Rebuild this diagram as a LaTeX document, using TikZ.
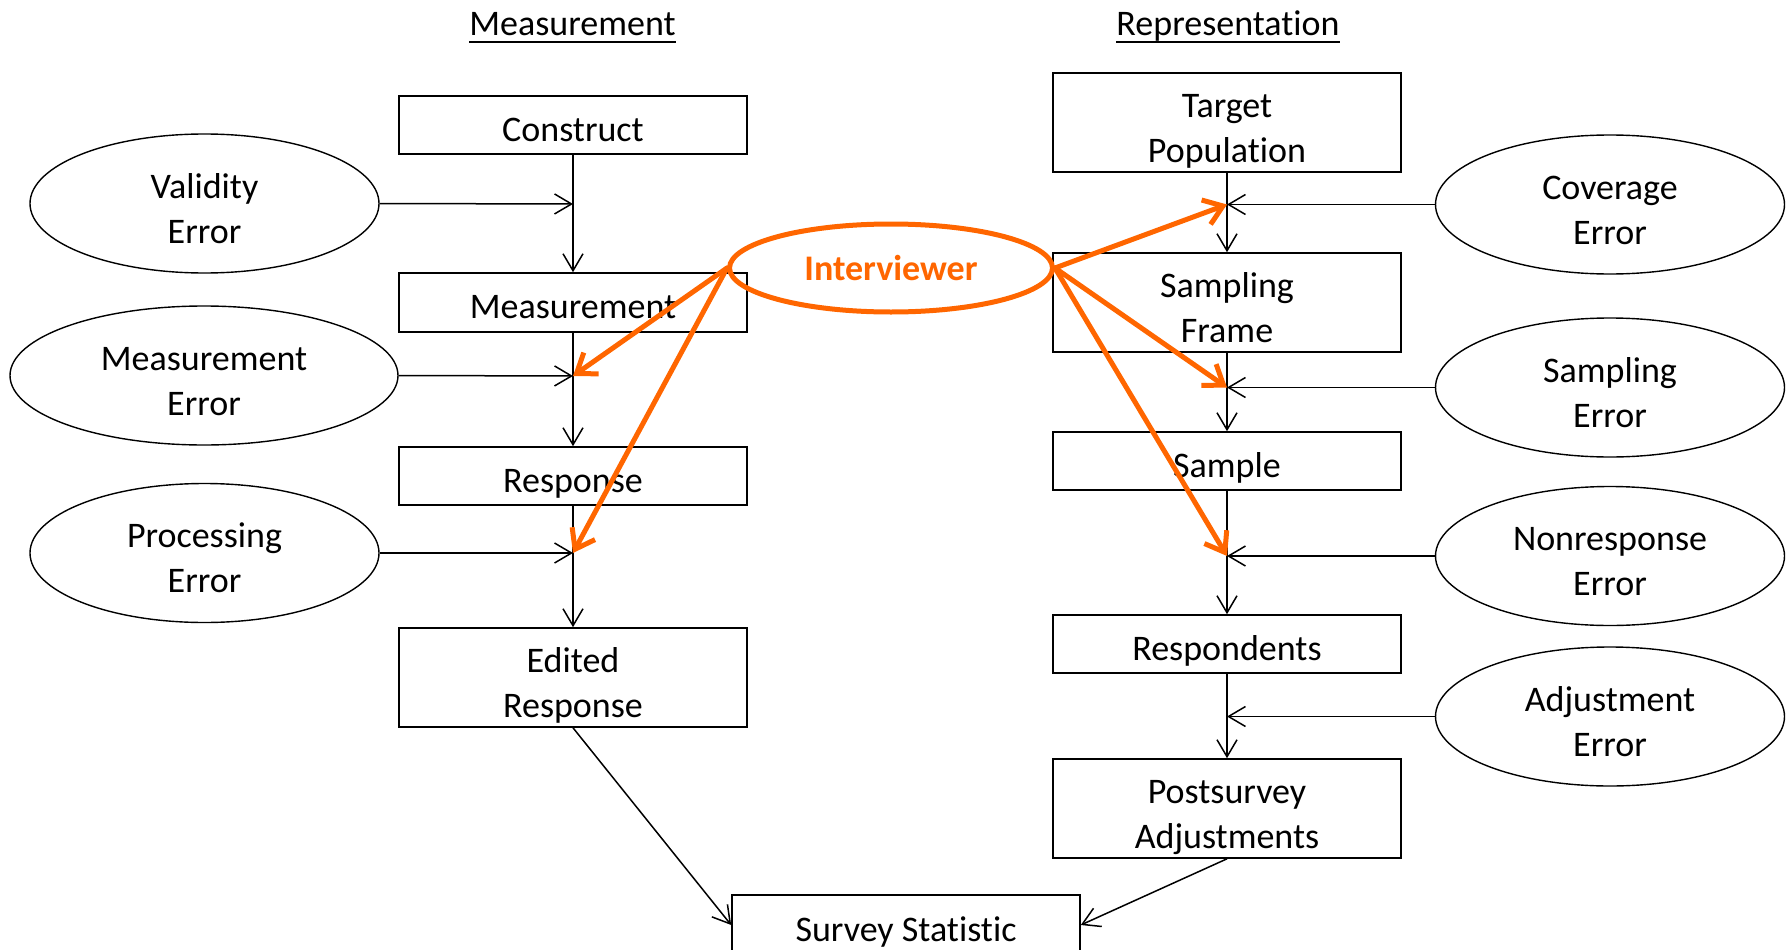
\documentclass[tikz,border=0pt]{standalone}
\usepackage{fontspec}
\setmainfont{Carlito}[RawFeature={-liga;-clig;-calt;-dlig}]
\usetikzlibrary{arrows.meta,shapes.geometric}
\definecolor{ivorange}{RGB}{255,102,0}
\newcommand\onel[1]{\raisebox{0pt}[32pt][0pt]{#1}}
\newcommand\twol[2]{\raisebox{0pt}[79pt][0pt]{\parbox[b]{240pt}{\centering #1\\#2}}}
\begin{document}
\begin{tikzpicture}[x=1pt,y=-1pt,
  txt/.style={font=\fontsize{36}{45}\selectfont},
  box/.style={txt, draw, line width=1.6pt, minimum width=348pt, inner sep=0pt},
  err/.style={txt, draw, ellipse, line width=1.4pt, inner sep=0pt, minimum width=349pt, minimum height=139pt},
  arr/.style={line width=1.5pt, -{Straight Barb[length=17pt,width=20pt]}},
  iarr/.style={ivorange, line width=5pt, line cap=round, -{Straight Barb[length=18pt,width=26pt]}},
  title/.style={txt, inner sep=0pt, anchor=base}]
\useasboundingbox (0,0) rectangle (1791,950);
\clip (0,0) rectangle (1791,950);

% titles
\node[title] (t1) at (572.5,36) {Measurement};
\node[title] (t2) at (1228,36) {Representation};
\draw[line width=1.8pt] ([yshift=-6pt]t1.base west) -- ([yshift=-6pt]t1.base east);
\draw[line width=1.8pt] ([yshift=-6pt]t2.base west) -- ([yshift=-6pt]t2.base east);

% measurement side
\node[box, minimum height=58pt] (construct) at (573,125) {\onel{Construct}};
\node[box, minimum height=59pt] (measure) at (573,302.5) {\onel{Measurement}};
\node[box, minimum height=58pt] (response) at (573,476) {\onel{Response}};
\node[box, minimum height=99pt] (edited) at (573,677.5) {\twol{Edited}{Response}};

% representation side
\node[box, minimum height=99pt] (target) at (1227,122.5) {\twol{Target}{Population}};
\node[box, minimum height=99pt] (frame) at (1227,302.5) {\twol{Sampling}{Frame}};
\node[box, minimum height=58pt] (sample) at (1227,461) {\onel{Sample}};
\node[box, minimum height=58pt] (resp) at (1227,644) {\onel{Respondents}};
\node[box, minimum height=99pt] (post) at (1227,808.5) {\twol{Postsurvey}{Adjustments}};

% survey statistic
\node[box, minimum height=60pt] (stat) at (906,925) {\onel{Survey Statistic}};

% error ellipses
\node[err] (valid) at (204.5,203.5) {\twol{Validity}{Error}};
\node[err, minimum width=388pt] (merr) at (204,375.5) {\twol{Measurement}{Error}};
\node[err] (proc) at (204.5,553) {\twol{Processing}{Error}};
\node[err] (cover) at (1610,204.5) {\twol{Coverage}{Error}};
\node[err] (samp) at (1610,387.5) {\twol{Sampling}{Error}};
\node[err] (nonr) at (1610,556) {\twol{Nonresponse}{Error}};
\node[err] (adj) at (1610,716.5) {\twol{Adjustment}{Error}};

% junctions
\coordinate (j1) at (573,204);
\coordinate (j2) at (573,376);
\coordinate (j3) at (573,553);
\coordinate (k1) at (1227,204.5);
\coordinate (k2) at (1227,387.5);
\coordinate (k3) at (1227,556);
\coordinate (k4) at (1227,716.5);

% flow arrows
\draw[arr] (construct) -- (measure);
\draw[arr] (measure) -- (response);
\draw[arr] (response) -- (edited);
\draw[arr] (target) -- (frame);
\draw[arr] (frame) -- (sample);
\draw[arr] (sample) -- (resp);
\draw[arr] (resp) -- (post);
\draw[arr] (edited.south) -- (stat.west);
\draw[arr] (post.south) -- (stat.east);

% error arrows
\draw[arr] (valid.east) -- (j1);
\draw[arr] (merr.east) -- (j2);
\draw[arr] (proc.east) -- (j3);
\draw[arr] (cover.west) -- (k1);
\draw[arr] (samp.west) -- (k2);
\draw[arr] (nonr.west) -- (k3);
\draw[arr] (adj.west) -- (k4);

% interviewer
\node[txt, draw=ivorange, ellipse, line width=5pt, inner sep=0pt, minimum width=323pt, minimum height=88pt, text=ivorange, font=\fontsize{36}{45}\selectfont\bfseries] (iv) at (891,268) {\raisebox{0pt}[24pt][0pt]{Interviewer}};
\draw[iarr] (iv.west) -- (j2);
\draw[iarr] (iv.west) -- (j3);
\draw[iarr] (iv.east) -- (k1);
\draw[iarr] (iv.east) -- (k2);
\draw[iarr] (iv.east) -- (k3);
\end{tikzpicture}
\end{document}
